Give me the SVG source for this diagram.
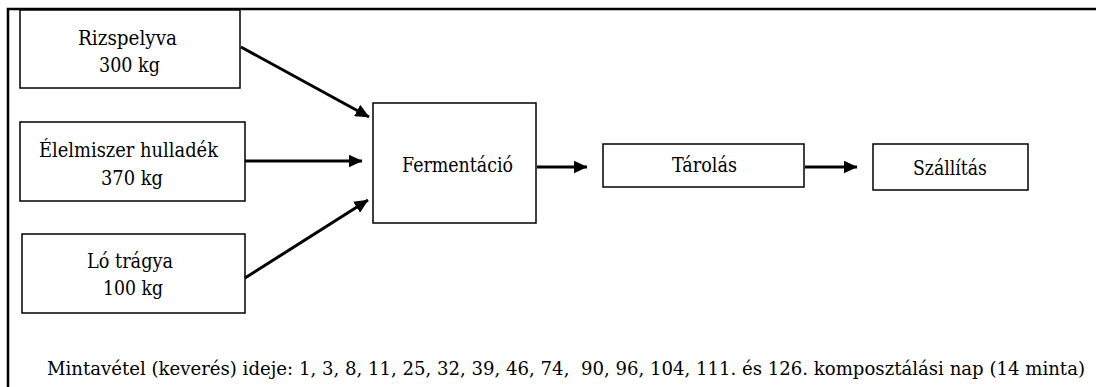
<svg xmlns="http://www.w3.org/2000/svg" width="1096" height="387" viewBox="0 0 1096 387">
<style>
.box{fill:#fff;stroke:#000;stroke-width:1.5}
.t{font-family:'DejaVu Serif','Liberation Serif',serif;font-size:20px;fill:#000;text-anchor:middle}
.b{font-family:'DejaVu Serif','Liberation Serif',serif;font-size:18px;fill:#000;white-space:pre}
.c{stroke:#000;stroke-width:3;fill:none;marker-end:url(#ah)}
</style>
<defs>
<marker id="ah" markerUnits="userSpaceOnUse" markerWidth="14" markerHeight="13" refX="13.5" refY="6.5" orient="auto">
<path d="M0,0 L14,6.5 L0,13 Z" fill="#000"/>
</marker>
</defs>
<rect x="0" y="0" width="1096" height="387" fill="#fff"/>
<g id="frame" stroke="#000" stroke-width="2.5" fill="none">
<path d="M8,387 V9 H1096"/>
</g>
<g id="rizspelyva">
<rect class="box" x="20" y="10" width="220" height="78"/>
<text class="t" x="127.5" y="45" textLength="99" lengthAdjust="spacingAndGlyphs">Rizspelyva</text>
<text class="t" x="129.5" y="72" textLength="61" lengthAdjust="spacingAndGlyphs">300 kg</text>
</g>
<g id="elelmiszer">
<rect class="box" x="20" y="122" width="225" height="79"/>
<text class="t" x="128.5" y="157" textLength="179" lengthAdjust="spacingAndGlyphs">Élelmiszer hulladék</text>
<text class="t" x="132" y="185" textLength="62" lengthAdjust="spacingAndGlyphs">370 kg</text>
</g>
<g id="lotragya">
<rect class="box" x="22" y="234" width="223" height="79"/>
<text class="t" x="130" y="268" textLength="86" lengthAdjust="spacingAndGlyphs">Ló trágya</text>
<text class="t" x="133" y="295" textLength="60" lengthAdjust="spacingAndGlyphs">100 kg</text>
</g>
<g id="fermentacio">
<rect class="box" x="373" y="103" width="163" height="120"/>
<text class="t" x="457.5" y="172" textLength="111" lengthAdjust="spacingAndGlyphs">Fermentáció</text>
</g>
<g id="tarolas">
<rect class="box" x="603" y="144" width="201" height="43"/>
<text class="t" x="704.5" y="172" textLength="65" lengthAdjust="spacingAndGlyphs">Tárolás</text>
</g>
<g id="szallitas">
<rect class="box" x="873" y="144" width="155" height="46"/>
<text class="t" x="950" y="175" textLength="74" lengthAdjust="spacingAndGlyphs">Szállítás</text>
</g>
<g id="note">
<text class="b" x="47" y="375" textLength="1038" lengthAdjust="spacingAndGlyphs">Mintavétel (keverés) ideje: 1, 3, 8, 11, 25, 32, 39, 46, 74,  90, 96, 104, 111. és 126. komposztálási nap (14 minta)</text>
</g>
<g id="connectors">
<line class="c" x1="241" y1="47" x2="369" y2="117"/>
<line class="c" x1="245" y1="161" x2="362" y2="161"/>
<line class="c" x1="245" y1="278" x2="368" y2="200"/>
<line class="c" x1="537" y1="167" x2="587" y2="167"/>
<line class="c" x1="805" y1="167" x2="857" y2="167"/>
</g>
</svg>
